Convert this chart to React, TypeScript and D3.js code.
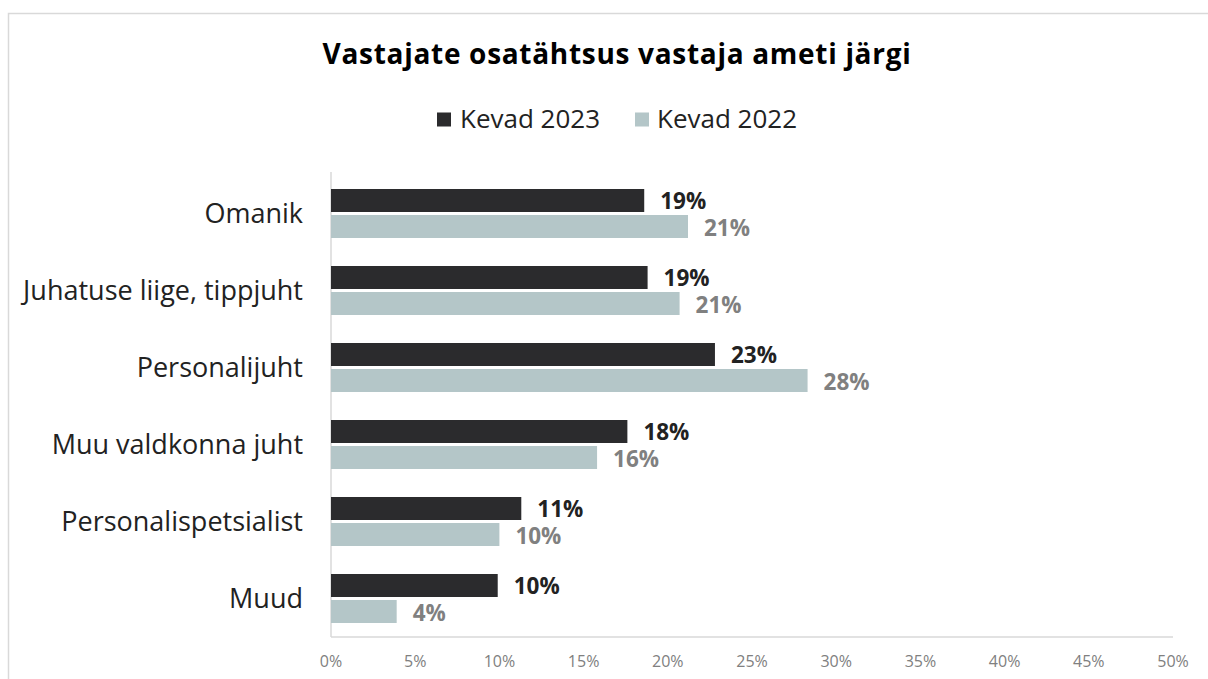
import React from "react";
import * as d3 from "d3";

const categories = [
  "Omanik",
  "Juhatuse liige, tippjuht",
  "Personalijuht",
  "Muu valdkonna juht",
  "Personalispetsialist",
  "Muud",
];
const seriesNames = ["Kevad 2023", "Kevad 2022"];
const values2023 = [18.6, 18.8, 22.8, 17.6, 11.3, 9.9];
const values2022 = [21.2, 20.7, 28.3, 15.8, 10.0, 3.9];
const labels2023 = ["19%", "19%", "23%", "18%", "11%", "10%"];
const labels2022 = ["21%", "21%", "28%", "16%", "10%", "4%"];
const xTicks = [0, 5, 10, 15, 20, 25, 30, 35, 40, 45, 50];

const W = 1208;
const H = 679;
const FONT = "'Open Sans', 'Noto Sans', sans-serif";
const DARK = "#2b2b2d";
const LIGHT = "#b4c6c8";

export default function App() {
  const x = d3.scaleLinear().domain([0, 50]).range([331, 1173]);
  const y = d3.scaleBand<string>().domain(categories).range([175, 637]).padding(0);
  const barH = 23;
  const gap = 1.5;

  return (
    <svg
      width={W}
      height={H}
      style={{ position: "absolute", left: 0, top: 0, background: "#fff" }}
      fontFamily={FONT}
    >
      <rect x={8.5} y={13.5} width={1250} height={720} fill="#fff" stroke="#d9d9d9" strokeWidth={1.5} />
      <text x={617} y={64} textAnchor="middle" fontSize={28} fontWeight={700} fill="#000" letterSpacing={0.7}>
        Vastajate osatähtsus vastaja ameti järgi
      </text>
      {/* legend */}
      <g>
        <rect x={437} y={112.5} width={14} height={14} fill={DARK} />
        <text x={460} y={128} fontSize={26} fill="#222">{seriesNames[0]}</text>
        <rect x={635} y={112.5} width={14} height={14} fill={LIGHT} />
        <text x={657} y={128} fontSize={26} fill="#222">{seriesNames[1]}</text>
      </g>
      {/* axes lines */}
      <line x1={x(0)} x2={x(0)} y1={172} y2={637} stroke="#d9d9d9" strokeWidth={1.5} />
      <line x1={x(0)} x2={x(50)} y1={637} y2={637} stroke="#d9d9d9" strokeWidth={1.5} />
      {xTicks.map((t) => (
        <text key={t} x={x(t)} y={667} textAnchor="middle" fontSize={16} fill="#808080">
          {t}%
        </text>
      ))}
      {categories.map((c, i) => {
        const cy = (y(c) as number) + y.bandwidth() / 2;
        return (
          <g key={c}>
            <text x={303} y={cy + 9.5} textAnchor="end" fontSize={27} fill="#222">
              {c}
            </text>
            <rect x={x(0)} y={cy - gap - barH} width={x(values2023[i]) - x(0)} height={barH} fill={DARK} />
            <rect x={x(0)} y={cy + gap} width={x(values2022[i]) - x(0)} height={barH} fill={LIGHT} />
            <text x={x(values2023[i]) + 16} y={cy - gap - barH / 2 + 8.5} fontSize={22.5} fontWeight={700} fill="#222">
              {labels2023[i]}
            </text>
            <text x={x(values2022[i]) + 16} y={cy + gap + barH / 2 + 9.5} fontSize={22.5} fontWeight={700} fill="#808080">
              {labels2022[i]}
            </text>
          </g>
        );
      })}
    </svg>
  );
}
